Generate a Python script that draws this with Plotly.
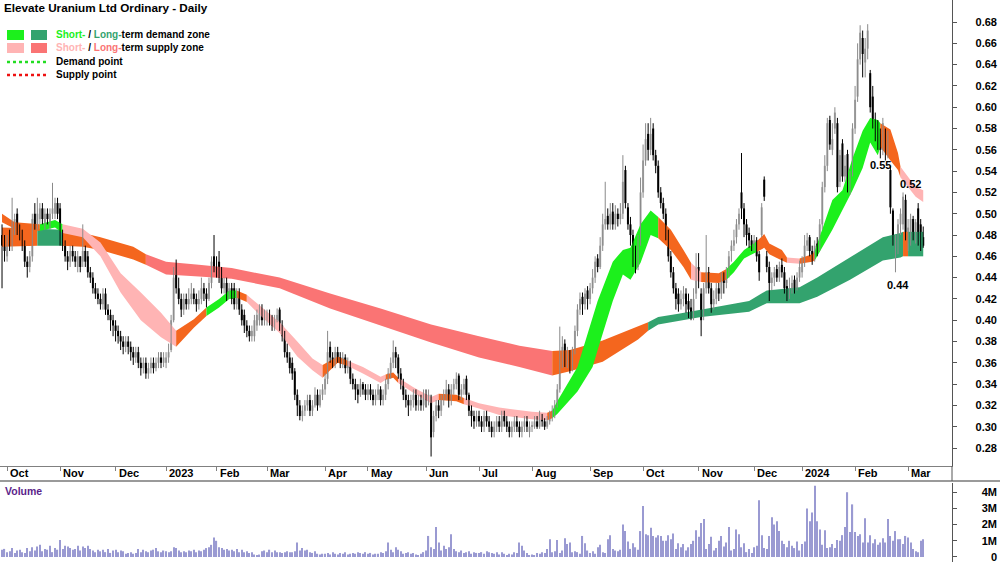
import pandas as pd
import plotly.graph_objects as go

TITLE = "Elevate Uranium Ltd Ordinary - Daily"
FONT = "Liberation Sans, Arial, sans-serif"

# ---------------- calendar (ASX trading days) ----------------
START_DATE = "2022-09-29"
HOLIDAYS = ["2022-12-26", "2022-12-27", "2023-01-02", "2023-01-26", "2023-04-07",
            "2023-04-10", "2023-04-25", "2023-06-12", "2023-12-25", "2023-12-26",
            "2024-01-01", "2024-01-26"]
MONTH_LABELS = ["Oct", "Nov", "Dec", "2023", "Feb", "Mar", "Apr", "May", "Jun", "Jul",
                "Aug", "Sep", "Oct", "Nov", "Dec", "2024", "Feb", "Mar"]

# ---------------- daily OHLC (one line per month) ----------------
opens = [
    0.480, 0.470, 0.460, 0.480, 0.470, 0.485, 0.500, 0.485, 0.480, 0.470, 0.455, 0.450, 0.460, 0.500, 0.490, 0.495, 0.505, 0.490, 0.500, 0.490, 0.500, 0.500, 0.510,
    0.505, 0.480, 0.470, 0.460, 0.455, 0.465, 0.460, 0.450, 0.460, 0.455, 0.465, 0.460, 0.445, 0.440, 0.430, 0.425, 0.420, 0.415, 0.425, 0.410, 0.405, 0.400,
    0.395, 0.390, 0.385, 0.380, 0.375, 0.380, 0.375, 0.370, 0.365, 0.370, 0.360, 0.355, 0.360, 0.350, 0.355, 0.360, 0.355, 0.360, 0.365, 0.360,
    0.360, 0.365, 0.372, 0.400, 0.445, 0.430, 0.420, 0.410, 0.420, 0.415, 0.420, 0.425, 0.420, 0.415, 0.420, 0.430, 0.425, 0.420, 0.435, 0.460,
    0.450, 0.455, 0.445, 0.430, 0.435, 0.425, 0.430, 0.430, 0.415, 0.425, 0.410, 0.405, 0.395, 0.390, 0.385, 0.385, 0.395, 0.400, 0.410, 0.400,
    0.400, 0.405, 0.400, 0.395, 0.400, 0.410, 0.395, 0.385, 0.370, 0.365, 0.360, 0.352, 0.330, 0.320, 0.310, 0.315, 0.320, 0.325, 0.315, 0.320, 0.330, 0.320, 0.330,
    0.335, 0.345, 0.375, 0.365, 0.360, 0.370, 0.365, 0.360, 0.365, 0.355, 0.360, 0.345, 0.340, 0.335, 0.330, 0.340, 0.335,
    0.330, 0.335, 0.330, 0.325, 0.330, 0.335, 0.325, 0.330, 0.340, 0.350, 0.360, 0.370, 0.365, 0.350, 0.340, 0.330, 0.325, 0.320, 0.325, 0.330, 0.320, 0.325, 0.320,
    0.330, 0.325, 0.328, 0.295, 0.310, 0.320, 0.315, 0.325, 0.330, 0.335, 0.325, 0.335, 0.340, 0.348, 0.330, 0.335, 0.345, 0.330, 0.315, 0.310, 0.305,
    0.310, 0.305, 0.300, 0.310, 0.305, 0.300, 0.295, 0.300, 0.305, 0.300, 0.310, 0.305, 0.300, 0.295, 0.300, 0.305, 0.300, 0.295, 0.300, 0.305, 0.295,
    0.300, 0.300, 0.305, 0.300, 0.310, 0.305, 0.300, 0.305, 0.310, 0.312, 0.320, 0.335, 0.360, 0.378, 0.360, 0.368, 0.355, 0.370, 0.390, 0.410, 0.422, 0.415, 0.428,
    0.420, 0.430, 0.440, 0.458, 0.450, 0.470, 0.490, 0.498, 0.490, 0.502, 0.490, 0.500, 0.495, 0.500, 0.541, 0.506, 0.490, 0.480, 0.462, 0.450, 0.475,
    0.520, 0.550, 0.575, 0.560, 0.580, 0.555, 0.545, 0.520, 0.510, 0.500, 0.480, 0.460, 0.445, 0.430, 0.425, 0.415, 0.420, 0.425, 0.418, 0.412, 0.405, 0.425,
    0.450, 0.425, 0.405, 0.430, 0.445, 0.430, 0.415, 0.420, 0.430, 0.425, 0.440, 0.435, 0.445, 0.465, 0.470, 0.478, 0.490, 0.520, 0.505, 0.490, 0.482, 0.475,
    0.470, 0.475, 0.462, 0.480, 0.532, 0.460, 0.450, 0.435, 0.440, 0.448, 0.440, 0.452, 0.445, 0.432, 0.425, 0.430, 0.438, 0.430, 0.440,
    0.445, 0.455, 0.470, 0.478, 0.465, 0.460, 0.472, 0.468, 0.490, 0.525, 0.545, 0.588, 0.560, 0.580, 0.585, 0.530, 0.566, 0.535, 0.556, 0.525, 0.540,
    0.580, 0.610, 0.645, 0.665, 0.642, 0.655, 0.632, 0.610, 0.588, 0.578, 0.575, 0.560, 0.575, 0.562, 0.541, 0.503, 0.460, 0.470, 0.490, 0.490, 0.513,
    0.472, 0.480, 0.495, 0.480, 0.505, 0.490, 0.478,
]
highs = [
    0.490, 0.480, 0.480, 0.485, 0.515, 0.500, 0.505, 0.490, 0.485, 0.475, 0.460, 0.465, 0.500, 0.510, 0.515, 0.510, 0.510, 0.505, 0.505, 0.505, 0.529, 0.515, 0.515,
    0.510, 0.485, 0.475, 0.465, 0.470, 0.470, 0.465, 0.465, 0.460, 0.490, 0.470, 0.465, 0.450, 0.445, 0.435, 0.430, 0.425, 0.430, 0.430, 0.415, 0.410, 0.405,
    0.400, 0.395, 0.390, 0.385, 0.385, 0.385, 0.380, 0.375, 0.375, 0.375, 0.365, 0.365, 0.365, 0.360, 0.365, 0.365, 0.365, 0.370, 0.370, 0.370,
    0.370, 0.378, 0.405, 0.450, 0.457, 0.440, 0.425, 0.425, 0.425, 0.430, 0.435, 0.430, 0.425, 0.428, 0.440, 0.435, 0.430, 0.440, 0.460, 0.480,
    0.460, 0.465, 0.450, 0.440, 0.440, 0.435, 0.435, 0.435, 0.430, 0.430, 0.415, 0.410, 0.400, 0.395, 0.395, 0.405, 0.410, 0.415, 0.415, 0.410,
    0.410, 0.410, 0.405, 0.405, 0.411, 0.412, 0.400, 0.390, 0.378, 0.370, 0.365, 0.355, 0.335, 0.325, 0.320, 0.325, 0.330, 0.330, 0.325, 0.337, 0.335, 0.335, 0.340,
    0.350, 0.390, 0.380, 0.370, 0.375, 0.375, 0.370, 0.370, 0.368, 0.365, 0.362, 0.350, 0.345, 0.340, 0.345, 0.342, 0.340,
    0.340, 0.340, 0.335, 0.335, 0.340, 0.338, 0.335, 0.345, 0.355, 0.365, 0.381, 0.375, 0.368, 0.355, 0.345, 0.335, 0.330, 0.330, 0.335, 0.335, 0.330, 0.330, 0.335,
    0.335, 0.335, 0.330, 0.315, 0.325, 0.325, 0.330, 0.335, 0.344, 0.340, 0.340, 0.345, 0.351, 0.350, 0.340, 0.345, 0.348, 0.332, 0.320, 0.315, 0.315,
    0.315, 0.310, 0.315, 0.315, 0.310, 0.305, 0.305, 0.310, 0.310, 0.315, 0.315, 0.310, 0.305, 0.305, 0.310, 0.310, 0.305, 0.305, 0.310, 0.310, 0.305,
    0.305, 0.310, 0.310, 0.315, 0.312, 0.308, 0.310, 0.315, 0.320, 0.325, 0.340, 0.394, 0.385, 0.382, 0.375, 0.372, 0.375, 0.395, 0.415, 0.426, 0.426, 0.430, 0.432,
    0.435, 0.448, 0.460, 0.462, 0.478, 0.500, 0.530, 0.505, 0.510, 0.510, 0.508, 0.505, 0.510, 0.555, 0.545, 0.510, 0.497, 0.485, 0.470, 0.480, 0.534,
    0.565, 0.585, 0.585, 0.590, 0.585, 0.560, 0.550, 0.525, 0.515, 0.505, 0.485, 0.465, 0.450, 0.435, 0.430, 0.428, 0.432, 0.430, 0.425, 0.420, 0.430, 0.463,
    0.463, 0.430, 0.435, 0.480, 0.450, 0.435, 0.428, 0.435, 0.435, 0.445, 0.445, 0.450, 0.465, 0.475, 0.485, 0.495, 0.505, 0.557, 0.510, 0.495, 0.487, 0.480,
    0.480, 0.478, 0.465, 0.510, 0.535, 0.465, 0.455, 0.445, 0.450, 0.452, 0.455, 0.458, 0.450, 0.438, 0.440, 0.442, 0.442, 0.445, 0.456,
    0.460, 0.480, 0.482, 0.480, 0.470, 0.475, 0.478, 0.495, 0.530, 0.555, 0.590, 0.592, 0.585, 0.600, 0.590, 0.560, 0.570, 0.555, 0.560, 0.540, 0.585,
    0.620, 0.660, 0.677, 0.672, 0.665, 0.678, 0.635, 0.620, 0.595, 0.588, 0.580, 0.590, 0.580, 0.578, 0.545, 0.505, 0.480, 0.495, 0.505, 0.520, 0.518,
    0.495, 0.500, 0.498, 0.495, 0.510, 0.495, 0.488,
]
lows = [
    0.430, 0.455, 0.455, 0.465, 0.465, 0.480, 0.480, 0.475, 0.465, 0.450, 0.440, 0.445, 0.455, 0.485, 0.485, 0.490, 0.490, 0.485, 0.490, 0.485, 0.495, 0.495, 0.495,
    0.470, 0.465, 0.455, 0.447, 0.450, 0.455, 0.450, 0.445, 0.445, 0.450, 0.450, 0.440, 0.435, 0.425, 0.420, 0.415, 0.410, 0.410, 0.405, 0.400, 0.390, 0.385,
    0.380, 0.378, 0.372, 0.368, 0.370, 0.368, 0.362, 0.358, 0.360, 0.355, 0.348, 0.350, 0.345, 0.345, 0.350, 0.350, 0.352, 0.355, 0.355, 0.356,
    0.355, 0.360, 0.370, 0.398, 0.425, 0.415, 0.403, 0.405, 0.410, 0.410, 0.415, 0.415, 0.408, 0.410, 0.415, 0.418, 0.412, 0.418, 0.430, 0.445,
    0.440, 0.435, 0.425, 0.425, 0.418, 0.420, 0.415, 0.410, 0.410, 0.405, 0.395, 0.388, 0.384, 0.380, 0.380, 0.380, 0.390, 0.395, 0.395, 0.395,
    0.395, 0.395, 0.390, 0.390, 0.398, 0.390, 0.380, 0.365, 0.360, 0.350, 0.344, 0.325, 0.310, 0.306, 0.305, 0.310, 0.315, 0.310, 0.310, 0.318, 0.315, 0.318, 0.325,
    0.330, 0.340, 0.360, 0.355, 0.355, 0.360, 0.355, 0.355, 0.350, 0.350, 0.340, 0.335, 0.325, 0.322, 0.328, 0.330, 0.325,
    0.325, 0.325, 0.320, 0.320, 0.325, 0.320, 0.320, 0.325, 0.335, 0.345, 0.355, 0.355, 0.345, 0.335, 0.325, 0.318, 0.310, 0.315, 0.318, 0.315, 0.315, 0.315, 0.315,
    0.318, 0.320, 0.272, 0.290, 0.305, 0.308, 0.310, 0.320, 0.325, 0.318, 0.320, 0.330, 0.335, 0.325, 0.325, 0.330, 0.325, 0.310, 0.300, 0.298, 0.300,
    0.300, 0.295, 0.295, 0.300, 0.295, 0.290, 0.290, 0.295, 0.295, 0.295, 0.300, 0.295, 0.290, 0.290, 0.295, 0.295, 0.290, 0.290, 0.295, 0.295, 0.290,
    0.295, 0.298, 0.298, 0.298, 0.300, 0.297, 0.298, 0.302, 0.305, 0.308, 0.318, 0.332, 0.355, 0.356, 0.355, 0.350, 0.352, 0.368, 0.385, 0.405, 0.405, 0.410, 0.410,
    0.415, 0.425, 0.435, 0.445, 0.448, 0.465, 0.485, 0.485, 0.485, 0.485, 0.485, 0.488, 0.490, 0.495, 0.505, 0.485, 0.470, 0.450, 0.444, 0.447, 0.470,
    0.515, 0.545, 0.550, 0.555, 0.550, 0.538, 0.515, 0.505, 0.495, 0.475, 0.455, 0.440, 0.425, 0.410, 0.408, 0.410, 0.413, 0.407, 0.402, 0.400, 0.400, 0.420,
    0.430, 0.385, 0.400, 0.425, 0.425, 0.407, 0.410, 0.415, 0.418, 0.420, 0.425, 0.430, 0.440, 0.455, 0.465, 0.472, 0.485, 0.495, 0.478, 0.470, 0.468, 0.465,
    0.465, 0.455, 0.437, 0.478, 0.512, 0.445, 0.418, 0.428, 0.432, 0.436, 0.436, 0.440, 0.425, 0.418, 0.420, 0.425, 0.425, 0.428, 0.436,
    0.440, 0.450, 0.465, 0.460, 0.452, 0.455, 0.460, 0.465, 0.485, 0.520, 0.540, 0.560, 0.555, 0.575, 0.520, 0.525, 0.530, 0.530, 0.520, 0.518, 0.535,
    0.575, 0.605, 0.640, 0.628, 0.628, 0.645, 0.595, 0.580, 0.568, 0.560, 0.552, 0.555, 0.550, 0.552, 0.500, 0.470, 0.445, 0.462, 0.480, 0.485, 0.475,
    0.465, 0.470, 0.475, 0.472, 0.470, 0.465, 0.468,
]
closes = [
    0.470, 0.465, 0.475, 0.470, 0.490, 0.495, 0.485, 0.480, 0.470, 0.455, 0.450, 0.460, 0.495, 0.490, 0.500, 0.505, 0.495, 0.500, 0.495, 0.500, 0.505, 0.510, 0.500,
    0.475, 0.470, 0.460, 0.455, 0.465, 0.460, 0.455, 0.460, 0.450, 0.465, 0.455, 0.445, 0.440, 0.430, 0.425, 0.420, 0.415, 0.425, 0.410, 0.405, 0.400, 0.395,
    0.390, 0.385, 0.380, 0.375, 0.380, 0.375, 0.370, 0.365, 0.370, 0.360, 0.355, 0.360, 0.350, 0.355, 0.360, 0.355, 0.360, 0.365, 0.360, 0.365,
    0.365, 0.370, 0.400, 0.440, 0.430, 0.420, 0.410, 0.420, 0.415, 0.420, 0.425, 0.420, 0.415, 0.420, 0.430, 0.425, 0.420, 0.435, 0.455, 0.450,
    0.445, 0.440, 0.430, 0.435, 0.425, 0.430, 0.420, 0.415, 0.425, 0.410, 0.400, 0.395, 0.390, 0.385, 0.390, 0.400, 0.405, 0.410, 0.400, 0.405,
    0.405, 0.400, 0.395, 0.400, 0.405, 0.395, 0.385, 0.370, 0.365, 0.355, 0.350, 0.330, 0.320, 0.310, 0.315, 0.320, 0.325, 0.315, 0.320, 0.330, 0.320, 0.330, 0.335,
    0.345, 0.370, 0.365, 0.360, 0.370, 0.365, 0.360, 0.365, 0.355, 0.360, 0.345, 0.340, 0.335, 0.330, 0.340, 0.335, 0.330,
    0.335, 0.330, 0.325, 0.330, 0.335, 0.325, 0.330, 0.340, 0.350, 0.360, 0.370, 0.365, 0.350, 0.340, 0.330, 0.325, 0.320, 0.325, 0.330, 0.320, 0.325, 0.320, 0.330,
    0.325, 0.330, 0.290, 0.310, 0.320, 0.315, 0.325, 0.330, 0.335, 0.325, 0.335, 0.340, 0.345, 0.330, 0.335, 0.340, 0.330, 0.315, 0.310, 0.305, 0.310,
    0.305, 0.300, 0.310, 0.305, 0.300, 0.295, 0.300, 0.305, 0.300, 0.310, 0.305, 0.300, 0.295, 0.300, 0.305, 0.300, 0.295, 0.300, 0.305, 0.300, 0.300,
    0.300, 0.305, 0.300, 0.310, 0.305, 0.300, 0.305, 0.310, 0.315, 0.320, 0.335, 0.360, 0.375, 0.360, 0.365, 0.355, 0.370, 0.390, 0.410, 0.420, 0.415, 0.425, 0.420,
    0.430, 0.440, 0.455, 0.450, 0.470, 0.490, 0.495, 0.490, 0.500, 0.490, 0.500, 0.495, 0.500, 0.530, 0.510, 0.490, 0.480, 0.460, 0.450, 0.470, 0.520,
    0.550, 0.570, 0.560, 0.575, 0.555, 0.545, 0.520, 0.510, 0.500, 0.480, 0.460, 0.445, 0.430, 0.420, 0.415, 0.420, 0.425, 0.415, 0.410, 0.405, 0.420, 0.440,
    0.440, 0.400, 0.430, 0.445, 0.430, 0.415, 0.420, 0.430, 0.425, 0.440, 0.435, 0.445, 0.460, 0.470, 0.475, 0.490, 0.500, 0.505, 0.490, 0.480, 0.475, 0.470,
    0.475, 0.460, 0.445, 0.506, 0.516, 0.450, 0.435, 0.440, 0.445, 0.440, 0.450, 0.445, 0.430, 0.425, 0.430, 0.435, 0.430, 0.440, 0.450,
    0.455, 0.470, 0.475, 0.465, 0.460, 0.470, 0.465, 0.490, 0.525, 0.545, 0.585, 0.565, 0.570, 0.595, 0.525, 0.555, 0.535, 0.545, 0.525, 0.530, 0.580,
    0.607, 0.645, 0.670, 0.650, 0.655, 0.672, 0.600, 0.588, 0.578, 0.572, 0.560, 0.585, 0.562, 0.570, 0.506, 0.478, 0.478, 0.490, 0.500, 0.516, 0.480,
    0.487, 0.495, 0.482, 0.492, 0.475, 0.470, 0.470,
]
# volume in millions of shares
volume_m = [
    0.45, 0.5, 0.3, 0.35, 0.55, 0.25, 0.4, 0.45, 0.3, 0.25, 0.55, 0.35, 0.6, 0.4, 0.65, 0.75, 0.35, 0.5, 0.45, 0.7, 0.3, 0.55, 0.45,
    1.05, 0.5, 0.7, 0.65, 0.55, 0.45, 0.5, 0.7, 0.4, 0.65, 0.55, 0.7, 0.5, 0.4, 0.3, 0.45, 0.35, 0.45, 0.3, 0.5, 0.25, 0.4,
    0.45, 0.3, 0.4, 0.35, 0.2, 0.25, 0.3, 0.2, 0.25, 0.5, 0.3, 0.45, 0.35, 0.3, 0.4, 0.45, 0.55, 0.35, 0.3, 0.4,
    0.35, 0.3, 0.35, 0.6, 0.55, 0.4, 0.3, 0.35, 0.3, 0.4, 0.35, 0.45, 0.3, 0.4, 0.35, 0.45, 0.55, 0.6, 0.75, 1.2,
    1.0, 0.6, 0.55, 0.45, 0.5, 0.4, 0.45, 0.35, 0.5, 0.3, 0.45, 0.3, 0.35, 0.25, 0.3, 0.15, 0.1, 0.15, 0.35, 0.4,
    0.3, 0.45, 0.3, 0.4, 0.3, 0.3, 0.25, 0.3, 0.35, 0.3, 0.3, 0.35, 0.9, 0.4, 0.55, 0.4, 0.45, 0.3, 0.25, 0.35, 0.2, 0.15, 0.2,
    0.2, 0.25, 0.15, 0.3, 0.2, 0.15, 0.25, 0.2, 0.3, 0.15, 0.2, 0.25, 0.2, 0.3, 0.25, 0.2, 0.3,
    0.2, 0.25, 0.15, 0.2, 0.2, 0.3, 0.25, 0.35, 0.9, 0.45, 0.3, 0.6, 0.45, 0.35, 0.2, 0.25, 0.3, 0.2, 0.25, 0.15, 0.1, 0.2, 0.3,
    0.4, 1.3, 0.6, 0.5, 1.85, 0.9, 0.4, 0.7, 0.5, 0.6, 1.4, 0.5, 0.35, 0.3, 0.4, 0.25, 0.3, 0.35, 0.2, 0.3, 0.25,
    0.25, 0.3, 0.2, 0.35, 0.3, 0.25, 0.2, 0.3, 0.15, 0.3, 0.2, 0.1, 0.2, 0.15, 0.3, 0.25, 0.9, 0.7, 0.4, 0.25, 0.1,
    0.15, 0.1, 0.25, 0.2, 0.3, 0.25, 0.5, 1.1, 0.3, 0.35, 1.05, 0.25, 0.4, 1.15, 0.8, 0.9, 0.3, 0.35, 0.3, 0.2, 1.3, 0.85, 0.4,
    0.25, 0.35, 0.2, 0.6, 0.75, 0.3, 0.25, 1.1, 1.35, 0.5, 0.4, 0.35, 0.45, 2.0, 1.6, 0.95, 0.5, 0.85, 0.6, 0.45, 1.6,
    3.15, 1.4, 1.35, 1.8, 1.3, 1.2, 1.35, 1.3, 1.0, 1.0, 1.35, 1.1, 1.45, 0.5, 0.85, 0.6, 0.8, 0.4, 0.6, 0.8, 1.0, 1.65,
    1.25, 2.1, 2.35, 0.5, 0.8, 1.25, 0.4, 0.55, 1.0, 1.3, 0.65, 0.9, 1.85, 0.4, 0.5, 1.7, 1.4, 0.6, 0.85, 0.3, 0.5, 0.25,
    0.6, 0.7, 3.5, 1.35, 0.55, 0.5, 1.3, 2.45, 2.0, 2.2, 1.6, 1.0, 0.8, 0.6, 1.0, 0.7, 0.55, 0.95, 0.4,
    0.8, 0.95, 3.0, 2.2, 2.75, 4.4, 2.2, 1.7, 0.75, 1.65, 0.55, 0.6, 0.8, 0.55, 1.05, 1.0, 1.35, 1.85, 4.0, 1.55, 3.25,
    1.55, 1.3, 1.4, 0.9, 2.4, 0.9, 1.35, 0.85, 1.1, 0.75, 0.9, 1.15, 0.9, 2.35, 1.3, 1.0, 1.6, 1.1, 1.1, 0.8, 1.3,
    1.2, 0.9, 0.5, 0.35, 0.3, 1.0, 1.1,
]

# ---------------- zones (trading-day index, upper, lower, colour key) ----------------
LT_x = [0, 14, 24, 32, 39, 52, 57, 65, 78, 91, 110, 130, 150, 170, 189, 205, 218, 225, 238, 252,
        256, 260, 268, 277, 296, 303, 316, 323, 336, 349, 356, 357, 359, 365]
LT_hi = [0.487, 0.486, 0.485, 0.482, 0.478, 0.469, 0.462, 0.455, 0.452, 0.449, 0.440, 0.425, 0.411, 0.396,
         0.385, 0.376, 0.371, 0.372, 0.381, 0.394, 0.398, 0.403, 0.406, 0.410, 0.418, 0.428, 0.431, 0.440,
         0.459, 0.478, 0.482, 0.483, 0.483, 0.483]
LT_lo = [0.469, 0.470, 0.470, 0.469, 0.466, 0.457, 0.452, 0.443, 0.441, 0.439, 0.430, 0.411, 0.395, 0.379,
         0.365, 0.356, 0.348, 0.352, 0.361, 0.382, 0.390, 0.396, 0.399, 0.403, 0.408, 0.416, 0.416, 0.422,
         0.438, 0.456, 0.459, 0.460, 0.460, 0.460]
LT_col = ['or', 'ld', 'or', 'or', 'or', 'or', 'ls', 'ls', 'ls', 'ls', 'ls', 'ls', 'ls', 'ls', 'ls', 'ls',
          'or', 'or', 'or', 'or', 'ld', 'ld', 'ld', 'ld', 'ld', 'ld', 'ld', 'ld', 'ld', 'ld', 'ld', 'or',
          'ld', 'ld']

ST_x = [0, 5, 15, 21, 24, 32, 39, 47, 55, 63, 69, 76, 81, 86, 90, 93, 97, 103, 110, 117,
        123, 127, 133, 137, 143, 150, 152, 155, 157, 163, 170, 173, 180, 183, 189, 197, 210, 216, 218, 220,
        228, 234, 236, 242, 246, 249, 253, 257, 260, 265, 270, 273, 277, 284, 287, 290, 294, 298, 299, 302,
        304, 309, 311, 316, 321, 322, 329, 333, 337, 341, 344, 347, 348, 352, 355, 356, 362, 365]
ST_hi = [0.500, 0.492, 0.490, 0.494, 0.490, 0.486, 0.473, 0.444, 0.426, 0.407,
         0.390, 0.401, 0.412, 0.420, 0.428, 0.428, 0.424, 0.412, 0.398, 0.380,
         0.364, 0.358, 0.366, 0.362, 0.356, 0.347, 0.349, 0.351, 0.346, 0.337,
         0.328, 0.331, 0.330, 0.327, 0.322, 0.318, 0.314, 0.313, 0.315, 0.324,
         0.356, 0.402, 0.418, 0.455, 0.466, 0.468, 0.490, 0.503, 0.497, 0.485,
         0.466, 0.454, 0.445, 0.444, 0.448, 0.455, 0.466, 0.472, 0.474, 0.481,
         0.472, 0.466, 0.459, 0.458, 0.462, 0.465, 0.513, 0.522, 0.552, 0.578,
         0.590, 0.588, 0.585, 0.579, 0.557, 0.544, 0.525, 0.522]
ST_lo = [0.492, 0.486, 0.484, 0.487, 0.482, 0.478, 0.460, 0.426, 0.400, 0.384,
         0.375, 0.393, 0.404, 0.412, 0.420, 0.421, 0.417, 0.403, 0.388, 0.366,
         0.353, 0.346, 0.360, 0.357, 0.350, 0.341, 0.344, 0.346, 0.341, 0.332,
         0.322, 0.325, 0.324, 0.321, 0.317, 0.311, 0.307, 0.306, 0.308, 0.312,
         0.333, 0.356, 0.372, 0.418, 0.443, 0.438, 0.454, 0.480, 0.477, 0.466,
         0.450, 0.438, 0.436, 0.435, 0.438, 0.445, 0.458, 0.463, 0.464, 0.468,
         0.462, 0.456, 0.454, 0.453, 0.455, 0.456, 0.485, 0.503, 0.522, 0.543,
         0.567, 0.555, 0.563, 0.550, 0.541, 0.534, 0.516, 0.511]
ST_col = ['or', 'or', 'sd', 'sd', 'ss', 'ss', 'ss', 'ss', 'ss', 'ss',
          'or', 'or', 'sd', 'sd', 'sd', 'or', 'ss', 'ss', 'ss', 'ss',
          'ss', 'or', 'or', 'ss', 'ss', 'ss', 'or', 'or', 'ss', 'ss',
          'ss', 'or', 'or', 'ss', 'ss', 'ss', 'ss', 'or', 'sd', 'sd',
          'sd', 'sd', 'sd', 'sd', 'sd', 'sd', 'sd', 'sd', 'or', 'or',
          'or', 'ss', 'or', 'or', 'sd', 'sd', 'sd', 'sd', 'or', 'or',
          'or', 'or', 'ss', 'or', 'or', 'sd', 'sd', 'sd', 'sd', 'sd',
          'sd', 'sd', 'or', 'or', 'or', 'ss', 'ss', 'ss']

# demand / supply point labels
SUPPLY_IDX = [348, 360]
SUPPLY_VAL = [0.55, 0.52]
DEMAND_IDX = [355]
DEMAND_VAL = [0.44]

PRICE_TICKS = [0.28, 0.30, 0.32, 0.34, 0.36, 0.38, 0.40, 0.42, 0.44, 0.46, 0.48,
               0.50, 0.52, 0.54, 0.56, 0.58, 0.60, 0.62, 0.64, 0.66, 0.68]
VOL_TICKS = [0, 1, 2, 3, 4]
VOL_TICK_TEXT = ["0", "1M", "2M", "3M", "4M"]

# ---------------- styling ----------------
COLORS = {'sd': '#1cf01c', 'ld': '#33a36e', 'ss': '#ffb4b4', 'ls': '#fa7474', 'or': '#f4661e'}
UP_BODY, UP_WICK = "#a6a6a6", "#8a8a8a"
DN_BODY, DN_WICK = "#000000", "#000000"
W, H = 1000, 562


def px_x(p):
    return p / W


def px_y(p):
    return 1 - p / H


lens = [len(opens), len(highs), len(lows), len(closes), len(volume_m)]
assert len(set(lens)) == 1, f"length mismatch {lens}"
assert len(LT_x) == len(LT_hi) == len(LT_lo) == len(LT_col), "LT mismatch"
assert len(ST_x) == len(ST_hi) == len(ST_lo) == len(ST_col), "ST mismatch"

n = len(closes)
cal = pd.bdate_range(START_DATE, "2024-06-30")
cal = cal[~cal.isin(pd.to_datetime(HOLIDAYS))][:n]
idx = list(range(n))

# first trading day of each month
month_pos = [i for i in range(1, n) if cal[i].month != cal[i - 1].month]

fig = go.Figure()


def add_zone(xs, his, los, cols):
    k0 = 0
    m = len(xs)
    for k in range(1, m):
        if k == m - 1 or cols[k] != cols[k0]:
            sx = xs[k0:k + 1]
            sh = his[k0:k + 1]
            sl = los[k0:k + 1]
            fig.add_trace(go.Scatter(
                x=sx + sx[::-1], y=sh + sl[::-1], mode="lines", fill="toself",
                fillcolor=COLORS[cols[k0]], line=dict(width=0, color=COLORS[cols[k0]]),
                hoverinfo="skip", showlegend=False, xaxis="x", yaxis="y"))
            k0 = k


add_zone(LT_x, LT_hi, LT_lo, LT_col)
add_zone(ST_x, ST_hi, ST_lo, ST_col)

# candles: wicks as line segments, bodies as floating bars
for up in (True, False):
    sel = [i for i in idx if (closes[i] >= opens[i]) == up]
    wx, wy = [], []
    for i in sel:
        wx += [i, i, None]
        wy += [lows[i], highs[i], None]
    fig.add_trace(go.Scatter(x=wx, y=wy, mode="lines",
                             line=dict(color=UP_WICK if up else DN_WICK, width=1),
                             hoverinfo="skip", showlegend=False, xaxis="x", yaxis="y"))
    fig.add_trace(go.Bar(
        x=sel, base=[min(opens[i], closes[i]) for i in sel],
        y=[max(abs(closes[i] - opens[i]), 0.0015) for i in sel], width=0.8,
        marker=dict(color=UP_BODY if up else DN_BODY, line=dict(width=0)),
        hoverinfo="skip", showlegend=False, xaxis="x", yaxis="y"))

fig.add_trace(go.Bar(x=idx, y=volume_m, width=0.45, marker=dict(color="#9a9ad2", line=dict(width=0)),
                     showlegend=False, hoverinfo="skip", xaxis="x2", yaxis="y2"))

# dummy traces so the label axes render
fig.add_trace(go.Scatter(x=[None], y=[None], xaxis="x", yaxis="y3", showlegend=False, hoverinfo="skip"))
fig.add_trace(go.Scatter(x=[None], y=[None], xaxis="x2", yaxis="y4", showlegend=False, hoverinfo="skip"))

PLOT_RIGHT = 952
PRICE_BOTTOM = 466
VOL_TOP = 483
XRANGE = [-0.8, 376.4]
PRANGE = [0.2631, 0.7007]
VRANGE = [-0.31, 4.57]
tickfont = dict(family=FONT, size=11, color="#000000")

fig.update_layout(
    width=W, height=H, margin=dict(l=0, r=0, t=0, b=0), barmode="overlay",
    paper_bgcolor="white", plot_bgcolor="white", showlegend=False,
    font=dict(family=FONT, size=11, color="#000"),
    xaxis=dict(domain=[0, px_x(PLOT_RIGHT)], range=XRANGE, anchor="y", showgrid=False, zeroline=False,
               showline=True, linecolor="#808080", linewidth=1, ticks="outside", ticklen=4,
               tickcolor="#808080", tickvals=month_pos, showticklabels=False),
    xaxis2=dict(domain=[0, px_x(PLOT_RIGHT)], range=XRANGE, anchor="y2", matches="x", showgrid=False,
                zeroline=False, showline=False, ticks="", showticklabels=False),
    yaxis=dict(domain=[px_y(PRICE_BOTTOM), 1], range=PRANGE, side="right", anchor="x", showgrid=False,
               zeroline=False, showline=True, linecolor="#555555", linewidth=1, ticks="outside",
               ticklen=4, tickcolor="#555555", tickvals=PRICE_TICKS, showticklabels=False),
    yaxis3=dict(overlaying="y", range=PRANGE, side="right", anchor="free", position=1.0, showgrid=False,
                zeroline=False, showline=False, ticks="", tickvals=PRICE_TICKS,
                ticktext=[f"<b>{v:.2f}</b>" for v in PRICE_TICKS], ticklabelposition="inside",
                ticklabeloverflow="allow", tickfont=tickfont),
    yaxis2=dict(domain=[0, px_y(VOL_TOP)], range=VRANGE, side="right", anchor="x2", showgrid=False,
                zeroline=False, showline=True, linecolor="#555555", linewidth=1, ticks="outside",
                ticklen=4, tickcolor="#555555", tickvals=VOL_TICKS, showticklabels=False),
    yaxis4=dict(overlaying="y2", range=VRANGE, side="right", anchor="free", position=1.0, showgrid=False,
                zeroline=False, showline=False, ticks="", tickvals=VOL_TICKS,
                ticktext=[f"<b>{t}</b>" for t in VOL_TICK_TEXT], ticklabelposition="inside",
                ticklabeloverflow="allow", tickfont=tickfont),
)

shapes = []
# separator between price and volume panes
shapes.append(dict(type="line", xref="paper", yref="paper", x0=0, x1=1, y0=px_y(481), y1=px_y(481),
                   line=dict(color="#9a9a9a", width=2)))
# price axis line continuing through label band
shapes.append(dict(type="line", xref="paper", yref="paper", x0=px_x(PLOT_RIGHT), x1=px_x(PLOT_RIGHT),
                   y0=px_y(PRICE_BOTTOM), y1=px_y(481), line=dict(color="#555555", width=1)))

annotations = []
# month labels
for p, lab in zip(month_pos, MONTH_LABELS):
    annotations.append(dict(x=p, xref="x", y=px_y(473), yref="paper", text=f"<b>{lab}</b>",
                            showarrow=False, xanchor="left", yanchor="middle", xshift=1,
                            font=dict(family=FONT, size=11, color="#000")))

annotations.append(dict(x=px_x(2), y=px_y(8), xref="paper", yref="paper", text=f"<b>{TITLE}</b>",
                        showarrow=False, xanchor="left", yanchor="middle",
                        font=dict(family=FONT, size=11.7, color="#000")))
annotations.append(dict(x=px_x(3), y=px_y(491), xref="paper", yref="paper", text="<b>Volume</b>",
                        showarrow=False, xanchor="left", yanchor="middle",
                        font=dict(family=FONT, size=10.5, color="#5b1f8a")))

# legend
LEGEND_FONT = dict(family=FONT, size=10, color="#000")
legend_rows = [
    (35, COLORS['sd'], COLORS['ld'],
     f"<b><span style='color:{COLORS['sd']}'>Short-</span> / <span style='color:{COLORS['ld']}'>Long-</span>term demand zone</b>"),
    (48, COLORS['ss'], COLORS['ls'],
     f"<b><span style='color:{COLORS['ss']}'>Short-</span> / <span style='color:{COLORS['ls']}'>Long-</span>term supply zone</b>"),
]
for yc, c1, c2, txt in legend_rows:
    shapes.append(dict(type="rect", xref="paper", yref="paper", x0=px_x(7), x1=px_x(24),
                       y0=px_y(yc + 5), y1=px_y(yc - 5), fillcolor=c1, line=dict(width=0)))
    shapes.append(dict(type="rect", xref="paper", yref="paper", x0=px_x(31), x1=px_x(47),
                       y0=px_y(yc + 5), y1=px_y(yc - 5), fillcolor=c2, line=dict(width=0)))
    annotations.append(dict(x=px_x(54), y=px_y(yc), xref="paper", yref="paper", text=txt,
                            showarrow=False, xanchor="left", yanchor="middle", font=LEGEND_FONT))
for yc, col, txt in [(62, "#22dd22", "Demand point"), (75, "#ee1111", "Supply point")]:
    shapes.append(dict(type="line", xref="paper", yref="paper", x0=px_x(7), x1=px_x(46),
                       y0=px_y(yc), y1=px_y(yc), line=dict(color=col, width=2.5, dash="dot")))
    annotations.append(dict(x=px_x(54), y=px_y(yc), xref="paper", yref="paper", text=f"<b>{txt}</b>",
                            showarrow=False, xanchor="left", yanchor="middle", font=LEGEND_FONT))

# demand / supply point labels
for i, v, ys in zip(SUPPLY_IDX + DEMAND_IDX, SUPPLY_VAL + DEMAND_VAL, [-5, 8, -7]):
    annotations.append(dict(x=i, y=v, xref="x", yref="y", text=f"<b>{v:.2f}</b>", showarrow=False,
                            xanchor="center", yanchor="middle", yshift=ys,
                            font=dict(family=FONT, size=11, color="#000")))

fig.update_layout(shapes=shapes, annotations=annotations)
fig.write_html("out.html")
